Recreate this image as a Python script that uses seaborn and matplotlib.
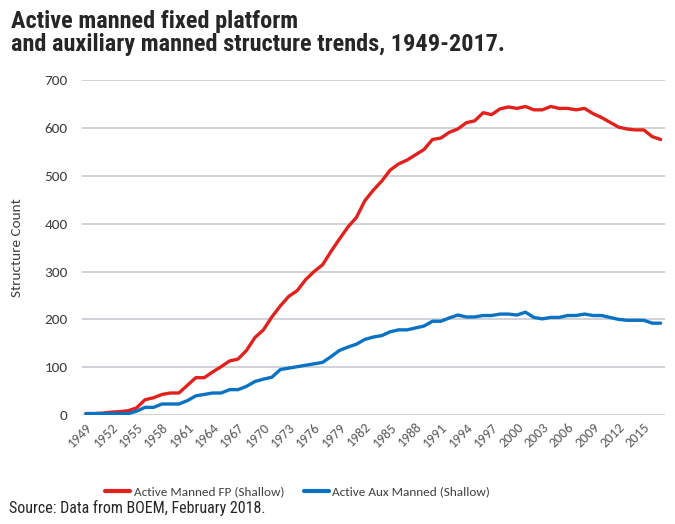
import matplotlib
matplotlib.use("Agg")
import matplotlib.pyplot as plt
import numpy as np
import pandas as pd
import seaborn as sns

years = list(range(1949, 2018))

manned_fp = [
    3, 3, 4, 6, 7, 9, 15, 32, 36, 43, 46, 46, 62, 78, 78, 90, 101, 113, 117, 135,
    162, 178, 205, 228, 248, 260, 283, 300, 314, 342, 368, 393, 413, 448, 470, 489,
    512, 525, 533, 544, 555, 576, 579, 591, 598, 611, 615, 632, 628, 640, 644, 641,
    645, 638, 638, 645, 641, 641, 638, 641, 630, 622, 612, 602, 598, 596, 596, 582,
    576,
]

aux_manned = [
    3, 3, 3, 3, 3, 3, 8, 16, 16, 23, 23, 23, 30, 40, 43, 46, 46, 53, 53, 60,
    70, 75, 79, 95, 98, 101, 104, 107, 110, 122, 135, 142, 148, 158, 163, 166,
    174, 178, 178, 182, 186, 196, 196, 203, 209, 205, 205, 208, 208, 211, 211, 209,
    215, 204, 201, 204, 204, 208, 208, 211, 208, 208, 204, 200, 198, 198, 198, 192,
    192,
]

series_names = ["Active Manned FP (Shallow)", "Active Aux Manned (Shallow)"]
colors = ["#E3211C", "#0A72C4"]
tick_years = list(range(1949, 2018, 3))

df = pd.DataFrame({
    "year": years * 2,
    "count": manned_fp + aux_manned,
    "series": [series_names[0]] * len(years) + [series_names[1]] * len(years),
})

sns.set_style("white")
plt.rcParams["font.family"] = ["Carlito", "DejaVu Sans"]

fig = plt.figure(figsize=(6.75, 5.24), dpi=100)
ax = fig.add_axes([0.121, 0.208, 0.864, 0.639])

sns.lineplot(data=df, x="year", y="count", hue="series", palette=colors,
             linewidth=2.4, ax=ax, legend=False)

ax.set_xlim(1948.5, 2017.5)
ax.set_ylim(0, 700)
ax.set_yticks(range(0, 701, 100))
ax.set_xticks(tick_years)
ax.set_xticklabels([str(y) for y in tick_years], rotation=45, ha="right",
                   rotation_mode="anchor", fontsize=10, color="#595959")
ax.tick_params(axis="y", labelsize=11, colors="#404040", length=0, pad=10)
ax.tick_params(axis="x", length=0, pad=4)
ax.yaxis.grid(True, color="#C9C9D1", linewidth=1.2)
for side in ["top", "right", "left", "bottom"]:
    ax.spines[side].set_visible(False)
ax.set_xlabel("")
ax.set_ylabel("Structure Count", fontsize=11, color="#404040")
ax.yaxis.set_label_coords(-0.1, 0.5)

handles = [plt.Line2D([], [], color=c, linewidth=3) for c in colors]
fig.legend(handles, series_names, loc="center left", bbox_to_anchor=(0.156, 0.061),
           ncol=2, frameon=False, fontsize=9.5, handlelength=1.9, handletextpad=0.25,
           columnspacing=1.5, labelcolor="#404040", borderpad=0, borderaxespad=0)

fig.text(0.016, 0.98, "Active manned fixed platform\nand auxiliary manned structure trends, 1949-2017.",
         fontsize=17.5, fontweight="bold", va="top", ha="left",
         family=["Roboto Condensed", "DejaVu Sans"], linespacing=1.0)
fig.text(0.013, 0.015, "Source: Data from BOEM, February 2018.", fontsize=11.5,
         va="bottom", ha="left", family=["Roboto Condensed", "DejaVu Sans"])

fig.savefig("out.png", dpi=100)
